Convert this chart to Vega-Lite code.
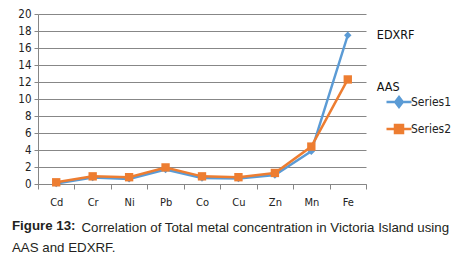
{
  "$schema": "https://vega.github.io/schema/vega-lite/v6.json",
  "width": 328,
  "height": 170,
  "autosize": {"type": "none"},
  "padding": {"left": 38, "top": 14, "right": 96, "bottom": 76},
  "background": "white",
  "config": {
    "view": {"stroke": null},
    "font": "Liberation Sans Narrow, DejaVu Sans Condensed, Liberation Sans"
  },
  "title": {
    "text": "Figure 13:",
    "subtitle": "AAS and EDXRF.",
    "orient": "bottom",
    "anchor": "start",
    "frame": "group",
    "dx": -26,
    "offset": -14,
    "font": "Liberation Sans",
    "fontSize": 13.3,
    "fontWeight": "bold",
    "color": "#231f20",
    "subtitleFont": "Liberation Sans",
    "subtitleFontSize": 13.3,
    "subtitleFontWeight": "normal",
    "subtitleColor": "#231f20",
    "subtitlePadding": 8
  },
  "data": {
    "values": [
      {"metal": "Cd", "series": "Series1", "value": 0.05},
      {"metal": "Cr", "series": "Series1", "value": 0.75},
      {"metal": "Ni", "series": "Series1", "value": 0.6},
      {"metal": "Pb", "series": "Series1", "value": 1.7},
      {"metal": "Co", "series": "Series1", "value": 0.7},
      {"metal": "Cu", "series": "Series1", "value": 0.65},
      {"metal": "Zn", "series": "Series1", "value": 1.05},
      {"metal": "Mn", "series": "Series1", "value": 3.85},
      {"metal": "Fe", "series": "Series1", "value": 17.5},
      {"metal": "Cd", "series": "Series2", "value": 0.2},
      {"metal": "Cr", "series": "Series2", "value": 0.9},
      {"metal": "Ni", "series": "Series2", "value": 0.8},
      {"metal": "Pb", "series": "Series2", "value": 1.95},
      {"metal": "Co", "series": "Series2", "value": 0.9},
      {"metal": "Cu", "series": "Series2", "value": 0.8},
      {"metal": "Zn", "series": "Series2", "value": 1.3},
      {"metal": "Mn", "series": "Series2", "value": 4.4},
      {"metal": "Fe", "series": "Series2", "value": 12.3}
    ]
  },
  "encoding": {
    "x": {
      "field": "metal",
      "type": "nominal",
      "sort": ["Cd", "Cr", "Ni", "Pb", "Co", "Cu", "Zn", "Mn", "Fe"],
      "scale": {"type": "band", "paddingInner": 0, "paddingOuter": 0},
      "axis": {
        "title": "Correlation of Total metal concentration in Victoria Island using",
        "titleFont": "Liberation Sans",
        "titleFontSize": 13.3,
        "titleFontWeight": "normal",
        "titleColor": "#231f20",
        "titleAnchor": "start",
        "titleAlign": "left",
        "titleBaseline": "alphabetic",
        "titleX": 43,
        "titleY": 47,
        "labelAngle": 0,
        "labelFontSize": 11,
        "labelColor": "#222222",
        "labelPadding": 7,
        "tickBand": "extent",
        "tickSize": 5,
        "tickColor": "#868686",
        "domainColor": "#868686",
        "grid": false
      }
    },
    "y": {
      "field": "value",
      "type": "quantitative",
      "scale": {"domain": [0, 20], "nice": false},
      "axis": {
        "title": null,
        "values": [0, 2, 4, 6, 8, 10, 12, 14, 16, 18, 20],
        "labelFontSize": 11.5,
        "labelColor": "#222222",
        "labelPadding": 3,
        "tickSize": 4,
        "tickColor": "#868686",
        "domainColor": "#868686",
        "gridColor": "#878787",
        "gridWidth": 1
      }
    }
  },
  "layer": [
    {
      "mark": {"type": "line", "strokeWidth": 2.5},
      "encoding": {
        "color": {
          "field": "series",
          "type": "nominal",
          "scale": {"domain": ["Series1", "Series2"], "range": ["#5B9BD5", "#ED7D31"]},
          "legend": {
            "title": null,
            "orient": "none",
            "legendX": 347,
            "legendY": 74,
            "symbolSize": 625,
            "symbolStrokeWidth": 2.5,
            "symbolType": "M-1,0H1",
            "rowPadding": 3,
            "labelFontSize": 12,
            "labelColor": "#222222",
            "labelOffset": -2,
            "encode": {
              "symbols": {
                "update": {
                  "shape": {"signal": "datum.value === 'Series1' ? 'M-1,0H1M0,-0.4L0.3,0L0,0.4L-0.3,0Z' : 'M-1,0H1M-0.32,-0.32H0.32V0.32H-0.32Z'"},
                  "size": {"value": 625},
                  "fill": {"signal": "datum.value === 'Series1' ? '#5B9BD5' : '#ED7D31'"},
                  "stroke": {"signal": "datum.value === 'Series1' ? '#5B9BD5' : '#ED7D31'"},
                  "strokeWidth": {"value": 2.5}
                }
              }
            }
          }
        }
      }
    },
    {
      "transform": [{"filter": "datum.series === 'Series1'"}],
      "mark": {"type": "point", "shape": "diamond", "size": 55, "filled": true, "opacity": 1, "color": "#5B9BD5"}
    },
    {
      "transform": [{"filter": "datum.series === 'Series2'"}],
      "mark": {"type": "point", "shape": "square", "size": 70, "filled": true, "opacity": 1, "color": "#ED7D31"}
    },
    {
      "data": {
        "values": [
          {"metal": "Fe", "value": 17.5, "label": "EDXRF"},
          {"metal": "Fe", "value": 11.4, "label": "AAS"}
        ]
      },
      "mark": {"type": "text", "align": "left", "baseline": "middle", "dx": 29, "fontSize": 12.5, "color": "#111111"},
      "encoding": {
        "text": {"field": "label"}
      }
    }
  ]
}
